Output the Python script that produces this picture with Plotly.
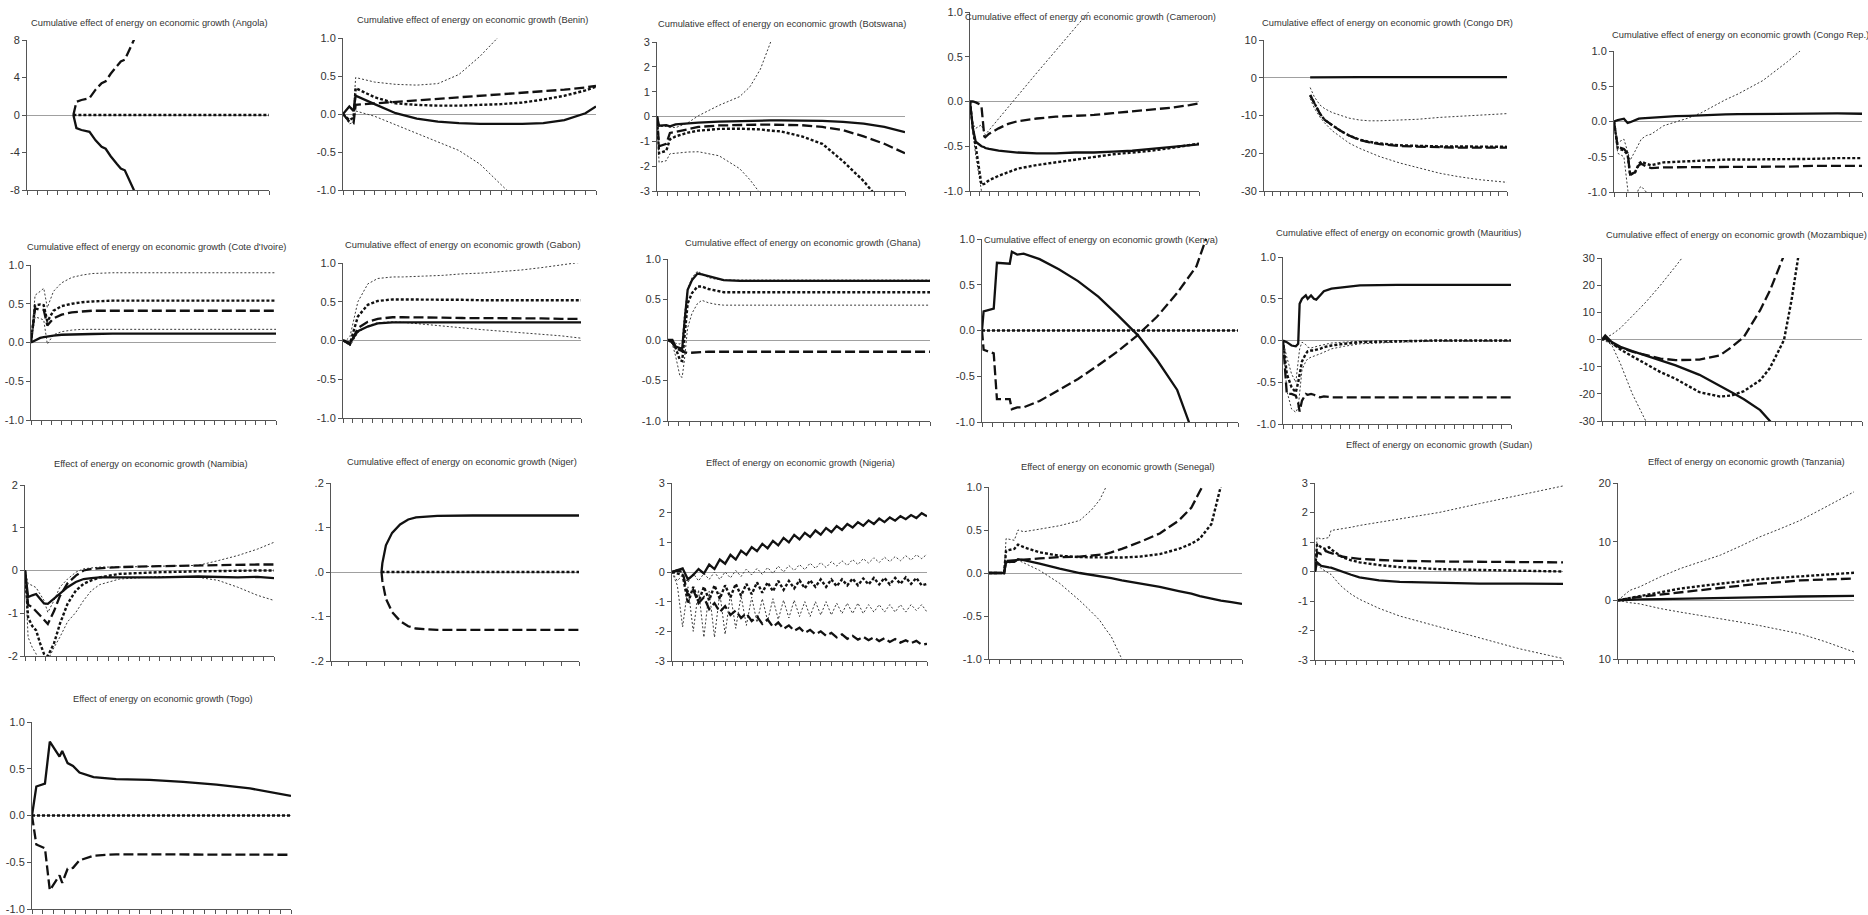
import plotly.graph_objects as go

W, H = 1868, 915

# ---------------- data ----------------
ANG_X = [4.6, 4.9, 5.4, 6.2, 6.8, 7.4, 7.8, 8.3, 8.9, 9.3, 9.7, 10.1, 10.6, 11.5]
ANG_DASH = [0, 1.4, 1.6, 1.8, 2.7, 3.4, 3.6, 4.4, 5.2, 5.7, 5.9, 6.8, 8.0, 9.5]
ANG_SOLID = [0, -1.4, -1.6, -1.8, -2.7, -3.4, -3.6, -4.4, -5.2, -5.7, -5.9, -6.8, -8.0, -9.5]
ANG_DOT_X = [4.6, 24]
ANG_DOT = [0, 0]

BEN_X = [0, 0.6, 1.0, 1.2, 3, 5, 7, 9, 11, 13, 15, 17, 19, 21, 23, 24]
BEN_SOLID = [0, 0.10, 0.04, 0.24, 0.13, 0.01, -0.06, -0.10, -0.12, -0.13, -0.13, -0.13, -0.12, -0.08, 0.01, 0.10]
BEN_DASH = [0, -0.10, -0.12, 0.12, 0.14, 0.16, 0.18, 0.20, 0.22, 0.24, 0.26, 0.28, 0.30, 0.32, 0.35, 0.37]
BEN_DOT = [0, -0.08, -0.05, 0.34, 0.22, 0.14, 0.12, 0.11, 0.11, 0.12, 0.13, 0.15, 0.19, 0.24, 0.31, 0.36]
BEN_UP = [0, 0.11, 0.05, 0.48, 0.42, 0.39, 0.38, 0.40, 0.52, 0.76, 1.05, 1.4, 1.8, 2.2, 2.6, 2.8]
BEN_LO = [0, -0.13, -0.11, 0.04, -0.03, -0.14, -0.26, -0.37, -0.48, -0.66, -0.92, -1.2, -1.5, -1.8, -2.1, -2.3]

BOT_X = [0, 0.2, 0.9, 1.25, 1.8, 3, 4, 6, 8, 9, 10, 11, 12, 14, 16, 18, 20, 22, 24]
BOT_SOLID = [0, -0.37, -0.35, -0.4, -0.32, -0.28, -0.25, -0.21, -0.18, -0.17, -0.17, -0.16, -0.16, -0.16, -0.18, -0.22, -0.29, -0.42, -0.63]
BOT_DASH = [0, -1.2, -1.1, -0.66, -0.62, -0.5, -0.42, -0.36, -0.33, -0.33, -0.33, -0.33, -0.33, -0.35, -0.42, -0.55, -0.8, -1.1, -1.48]
BOT_DOT = [0, -1.48, -1.38, -0.92, -0.8, -0.65, -0.57, -0.5, -0.49, -0.5, -0.52, -0.57, -0.6, -0.8, -1.1, -1.8, -2.6, -3.6, -5.0]
BOT_UP = [0, -0.4, -0.4, -0.42, -0.45, -0.25, 0.03, 0.45, 0.8, 1.2, 1.9, 3.0, 4.5, 6, 8, 10, 12, 14, 16]
BOT_LO = [0, -1.85, -1.78, -1.5, -1.48, -1.43, -1.42, -1.58, -2.1, -2.55, -3.1, -3.8, -4.6, -5.5, -6.5, -7.5, -8.5, -9.5, -10.5]

CAM_X = [0, 0.3, 0.6, 1.0, 1.2, 1.5, 1.6, 2, 3, 4, 5, 7, 9, 11, 13, 15, 17, 19, 21, 23, 24]
CAM_SOLID = [0, -0.3, -0.45, -0.48, -0.5, -0.51, -0.52, -0.53, -0.55, -0.56, -0.57, -0.58, -0.58, -0.57, -0.57, -0.56, -0.55, -0.53, -0.51, -0.49, -0.48]
CAM_DASH = [0, 0, -0.01, -0.03, -0.05, -0.39, -0.4, -0.36, -0.3, -0.25, -0.22, -0.19, -0.17, -0.16, -0.15, -0.13, -0.11, -0.09, -0.07, -0.04, -0.02]
CAM_DOT = [0, -0.3, -0.5, -0.8, -0.93, -0.92, -0.91, -0.88, -0.83, -0.79, -0.75, -0.71, -0.68, -0.65, -0.62, -0.59, -0.57, -0.55, -0.52, -0.49, -0.47]
CAM_UP = [0, -0.25, -0.3, -0.27, -0.26, -0.35, -0.37, -0.32, -0.19, -0.06, 0.06, 0.32, 0.57, 0.82, 1.08, 1.33, 1.58, 1.83, 2.08, 2.33, 2.45]
CAM_LO = [0, -0.35, -0.6, -0.89, -1.0, -1.1, -1.15, -1.2, -1.25, -1.3, -1.3, -1.3, -1.3, -1.3, -1.3, -1.3, -1.3, -1.3, -1.3, -1.3, -1.3]

CDR_X = [5.7, 6.2, 6.9, 7.5, 8.4, 9.4, 10.5, 11.8, 13, 14.3, 16.8, 19, 21.7, 24, 26.6, 30]
CDR_SOLID = [0.1, 0.12, 0.13, 0.14, 0.15, 0.15, 0.15, 0.15, 0.15, 0.15, 0.15, 0.15, 0.15, 0.15, 0.15, 0.15]
CDR_DASH = [-4.6, -6.8, -9.5, -11.2, -12.5, -14.0, -15.3, -16.5, -17.1, -17.6, -18.1, -18.3, -18.4, -18.5, -18.5, -18.5]
CDR_DOT = [-4.6, -6.8, -9.5, -11.2, -12.5, -14.0, -15.3, -16.4, -17.0, -17.4, -17.9, -18.1, -18.2, -18.2, -18.3, -18.3]
CDR_UP = [-2.6, -5.0, -7.2, -8.2, -9.2, -10.0, -10.7, -11.2, -11.4, -11.4, -11.2, -11.0, -10.5, -10.2, -9.9, -9.5]
CDR_LO = [-5.5, -8.0, -10.4, -12.0, -14.0, -15.6, -17.3, -18.7, -19.8, -20.9, -22.6, -23.9, -25.3, -26.2, -27.0, -27.7]

CRP_X = [0, 0.3, 0.8, 1.1, 1.3, 1.7, 2.0, 2.2, 2.6, 3.0, 4, 5, 6, 7, 8, 9, 10, 12, 14, 16, 18, 20]
CRP_SOLID = [0, 0.02, 0.04, -0.02, -0.01, 0.02, 0.04, 0.045, 0.05, 0.055, 0.065, 0.075, 0.08, 0.09, 0.095, 0.1, 0.105, 0.11, 0.115, 0.115, 0.115, 0.11]
CRP_DASH = [0, -0.36, -0.39, -0.45, -0.75, -0.72, -0.62, -0.6, -0.64, -0.66, -0.65, -0.65, -0.64, -0.64, -0.64, -0.64, -0.64, -0.64, -0.64, -0.63, -0.63, -0.63]
CRP_DOT = [0, -0.38, -0.41, -0.47, -0.76, -0.72, -0.6, -0.57, -0.6, -0.62, -0.58, -0.57, -0.56, -0.55, -0.55, -0.54, -0.54, -0.54, -0.53, -0.53, -0.52, -0.52]
CRP_UP = [0, -0.3, -0.25, -0.45, -0.55, -0.42, -0.32, -0.25, -0.2, -0.18, -0.06, -0.01, 0.05, 0.12, 0.22, 0.31, 0.39, 0.58, 0.85, 1.15, 1.45, 1.75]
CRP_LO = [0, -0.45, -0.5, -1.0, -1.25, -1.1, -0.95, -0.92, -1.0, -1.15, -1.3, -1.4, -1.5, -1.5, -1.5, -1.5, -1.5, -1.5, -1.5, -1.5, -1.5, -1.5]

CIV_X = [0, 0.4, 0.9, 1.25, 1.6, 2.2, 3, 4, 5, 6, 8, 10, 14, 18, 24]
CIV_SOLID = [0, 0.03, 0.06, 0.07, 0.08, 0.09, 0.10, 0.105, 0.11, 0.11, 0.115, 0.115, 0.115, 0.115, 0.115]
CIV_DASH = [0, 0.44, 0.42, 0.42, 0.22, 0.31, 0.36, 0.39, 0.40, 0.41, 0.41, 0.41, 0.41, 0.41, 0.41]
CIV_DOT = [0, 0.48, 0.49, 0.48, 0.27, 0.41, 0.47, 0.50, 0.52, 0.53, 0.54, 0.54, 0.54, 0.54, 0.54]
CIV_UP = [0, 0.61, 0.66, 0.70, 0.45, 0.66, 0.77, 0.84, 0.87, 0.89, 0.9, 0.9, 0.9, 0.9, 0.9]
CIV_LO = [0, 0.33, 0.31, 0.29, -0.02, 0.1, 0.14, 0.16, 0.17, 0.17, 0.17, 0.17, 0.17, 0.17, 0.17]

GAB_X = [0, 0.3, 0.7, 1.5, 2.5, 3.5, 5, 6, 8, 10, 12, 14, 16, 18, 20, 22, 24]
GAB_SOLID = [0, -0.01, -0.03, 0.12, 0.18, 0.22, 0.235, 0.235, 0.235, 0.235, 0.235, 0.235, 0.235, 0.235, 0.235, 0.235, 0.235]
GAB_DASH = [0, -0.02, -0.05, 0.16, 0.24, 0.28, 0.3, 0.3, 0.3, 0.295, 0.29, 0.29, 0.29, 0.285, 0.285, 0.28, 0.28]
GAB_DOT = [0, -0.01, -0.04, 0.31, 0.46, 0.51, 0.53, 0.53, 0.53, 0.525, 0.525, 0.52, 0.52, 0.52, 0.52, 0.52, 0.52]
GAB_UP = [0, 0.0, 0.05, 0.5, 0.73, 0.8, 0.82, 0.82, 0.83, 0.84, 0.86, 0.87, 0.89, 0.91, 0.94, 0.97, 1.01]
GAB_LO = [0, -0.03, -0.07, 0.1, 0.19, 0.23, 0.24, 0.235, 0.21, 0.19, 0.16, 0.14, 0.12, 0.1, 0.08, 0.06, 0.03]

GHA_X = [0, 0.4, 0.7, 1.1, 1.3, 1.5, 1.8, 2.2, 2.7, 3.1, 3.7, 4.4, 5.1, 6.6, 8, 12, 16, 20, 24]
GHA_SOLID = [0, 0, -0.08, -0.1, -0.11, 0.2, 0.62, 0.74, 0.82, 0.81, 0.79, 0.76, 0.74, 0.73, 0.73, 0.73, 0.73, 0.73, 0.73]
GHA_DASH = [0, -0.03, -0.1, -0.13, -0.145, -0.15, -0.16, -0.155, -0.15, -0.145, -0.145, -0.145, -0.145, -0.145, -0.145, -0.145, -0.145, -0.145, -0.145]
GHA_DOT = [0, -0.03, -0.1, -0.25, -0.26, 0.05, 0.45, 0.58, 0.66, 0.66, 0.63, 0.61, 0.59, 0.59, 0.59, 0.59, 0.59, 0.59, 0.59]
GHA_UP = [0, 0, -0.04, -0.05, -0.02, 0.3, 0.63, 0.77, 0.85, 0.82, 0.77, 0.75, 0.74, 0.74, 0.74, 0.74, 0.74, 0.74, 0.74]
GHA_LO = [0, -0.05, -0.2, -0.45, -0.46, -0.25, 0.15, 0.33, 0.45, 0.49, 0.46, 0.44, 0.43, 0.43, 0.43, 0.43, 0.43, 0.43, 0.43]

KEN_X = [0, 0.15, 1.1, 1.4, 2.6, 2.8, 3.3, 3.9, 5.4, 7.2, 9, 10.9, 12.7, 14.6, 16.4, 18.3, 19.4, 20.1, 21, 24]
KEN_SOLID = [0, 0.21, 0.24, 0.74, 0.73, 0.86, 0.83, 0.84, 0.78, 0.67, 0.54, 0.37, 0.17, -0.05, -0.32, -0.65, -1.0, -1.3, -1.6, -2.5]
KEN_DASH = [0, -0.21, -0.25, -0.75, -0.75, -0.86, -0.84, -0.84, -0.77, -0.65, -0.53, -0.38, -0.23, -0.05, 0.15, 0.41, 0.58, 0.7, 1.0, 2.0]
KEN_DOT_X = [0, 24]
KEN_DOT = [0, 0]

MAU_X = [0, 0.4, 0.9, 1.35, 1.6, 1.75, 2, 2.4, 2.6, 2.95, 3.25, 3.5, 3.9, 4.3, 5.1, 6.4, 8.1, 12, 16, 20, 24]
MAU_SOLID = [0, -0.02, -0.06, -0.07, -0.04, 0.44, 0.5, 0.54, 0.5, 0.54, 0.5, 0.49, 0.54, 0.59, 0.62, 0.64, 0.66, 0.665, 0.665, 0.665, 0.665]
MAU_DASH = [0, -0.64, -0.64, -0.66, -0.75, -0.85, -0.72, -0.64, -0.65, -0.64, -0.65, -0.66, -0.68, -0.67, -0.68, -0.68, -0.68, -0.68, -0.68, -0.68, -0.68]
MAU_DOT = [0, -0.4, -0.56, -0.62, -0.5, -0.4, -0.25, -0.16, -0.13, -0.12, -0.12, -0.11, -0.1, -0.08, -0.06, -0.04, -0.02, -0.01, 0, 0, 0]
MAU_UP = [0, -0.2, -0.4, -0.5, -0.25, -0.1, -0.02, -0.05, -0.08, -0.09, -0.08, -0.07, -0.06, -0.05, -0.03, -0.02, -0.01, 0, 0, 0, 0]
MAU_LO = [0, -0.6, -0.82, -0.86, -0.8, -0.6, -0.35, -0.25, -0.22, -0.2, -0.19, -0.18, -0.16, -0.14, -0.1, -0.07, -0.04, -0.02, -0.01, -0.01, -0.01]

MOZ_X = [0, 0.3, 0.9, 1.7, 2.8, 3.5, 4.1, 5.4, 6.8, 9, 10.9, 12, 13.1, 14.6, 15.5, 16.8, 17.5, 18.1, 24]
MOZ_SOLID = [0, 1.5, -0.9, -2.7, -4.3, -5.2, -6.0, -7.7, -9.5, -13, -17, -19.5, -22, -26, -30, -36, -40, -45, -90]
MOZ_DASH = [0, 0.5, -1.5, -3, -4.5, -5.2, -5.8, -7, -7.6, -7.4, -5.8, -2.7, 1, 10.8, 18, 31, 45, 60, 150]
MOZ_DOT = [0, 0.3, -1.2, -3.7, -6.2, -7.7, -9, -12, -14.5, -19.4, -21, -20.6, -19, -15, -10.5, -0.2, 14.6, 30, 100]
MOZ_UP = [0, 0.5, 1.8, 4.2, 8.5, 11.5, 14, 20, 27, 38, 48, 58, 68, 78, 88, 98, 108, 118, 200]
MOZ_LO = [0, -0.5, -2, -8.9, -20, -26, -30.5, -40, -50, -60, -70, -80, -90, -100, -110, -120, -130, -140, -200]

NAM_X = [0, 0.3, 0.7, 1.07, 1.45, 1.83, 2.2, 2.8, 3.36, 4.1, 4.9, 5.65, 6.4, 7.2, 9.1, 12.9, 16.7, 18.6, 20.5, 22.4, 24]
NAM_SOLID = [0, -0.62, -0.58, -0.55, -0.66, -0.77, -0.78, -0.66, -0.55, -0.39, -0.27, -0.2, -0.18, -0.16, -0.16, -0.16, -0.14, -0.15, -0.16, -0.15, -0.18]
NAM_DASH = [0, -0.8, -0.86, -0.95, -1.05, -1.15, -1.25, -0.95, -0.6, -0.3, -0.12, 0.0, 0.04, 0.05, 0.08, 0.1, 0.12, 0.13, 0.13, 0.14, 0.14]
NAM_DOT = [0, -1.1, -1.3, -1.4, -1.7, -1.95, -2.0, -1.7, -1.25, -0.78, -0.47, -0.31, -0.23, -0.16, -0.08, -0.04, -0.02, -0.01, 0, 0, 0]
NAM_UP = [0, -0.31, -0.35, -0.4, -0.55, -0.7, -0.98, -0.7, -0.39, -0.2, -0.04, 0.04, 0.06, 0.08, 0.08, 0.1, 0.12, 0.23, 0.35, 0.5, 0.66]
NAM_LO = [0, -1.56, -1.8, -1.95, -2.2, -2.3, -2.1, -1.8, -1.56, -1.2, -0.98, -0.7, -0.47, -0.33, -0.2, -0.14, -0.16, -0.23, -0.39, -0.58, -0.7]

NIG_X = [2.85, 2.9, 3.1, 3.45, 3.9, 4.36, 4.8, 6.0, 8, 14]
NIG_SOLID = [0, 0.02, 0.06, 0.088, 0.107, 0.118, 0.123, 0.126, 0.127, 0.127]
NIG_DASH = [0, -0.02, -0.06, -0.09, -0.11, -0.122, -0.127, -0.13, -0.13, -0.13]
NIG_DOT_X = [2.85, 14]
NIG_DOT = [0, 0]

NGA_X = [0, 0.5, 1, 1.5, 2, 2.5, 3, 3.5, 4, 4.5,
         5, 5.5, 6, 6.5, 7, 7.5, 8, 8.5, 9, 9.5,
         10, 10.5, 11, 11.5, 12, 12.5, 13, 13.5, 14, 14.5,
         15, 15.5, 16, 16.5, 17, 17.5, 18, 18.5, 19, 19.5,
         20, 20.5, 21, 21.5, 22, 22.5, 23, 23.5, 24]
NGA_SOLID = [0, 0.05, 0.12, -0.25, -0.1, 0.1, -0.05, 0.25, 0.1, 0.42,
             0.28, 0.58, 0.42, 0.72, 0.58, 0.84, 0.7, 0.95, 0.8, 1.05,
             0.9, 1.15, 1.0, 1.25, 1.1, 1.32, 1.18, 1.4, 1.26, 1.48,
             1.34, 1.55, 1.42, 1.62, 1.5, 1.68, 1.56, 1.74, 1.62, 1.8,
             1.68, 1.84, 1.73, 1.88, 1.78, 1.92, 1.82, 1.98, 1.88]
NGA_DASH = [0, 0.05, 0.0, -0.8, -0.6, -1.05, -0.85, -1.25, -1.05, -1.35,
            -1.15, -1.45, -1.3, -1.55, -1.4, -1.65, -1.5, -1.75, -1.6, -1.85,
            -1.7, -1.92, -1.8, -1.98, -1.88, -2.05, -1.95, -2.1, -2.0, -2.15,
            -2.05, -2.2, -2.1, -2.25, -2.15, -2.28, -2.18, -2.3, -2.2, -2.33,
            -2.23, -2.36, -2.26, -2.38, -2.3, -2.4, -2.32, -2.45, -2.42]
NGA_DOT = [0, -0.05, -0.1, -1.05, -0.5, -1.0, -0.5, -0.95, -0.45, -0.9,
           -0.45, -0.85, -0.4, -0.8, -0.4, -0.75, -0.35, -0.7, -0.35, -0.65,
           -0.3, -0.6, -0.3, -0.55, -0.28, -0.55, -0.28, -0.5, -0.25, -0.5,
           -0.25, -0.48, -0.25, -0.45, -0.22, -0.45, -0.22, -0.42, -0.2, -0.42,
           -0.2, -0.42, -0.2, -0.4, -0.18, -0.4, -0.2, -0.45, -0.4]
NGA_UP = [0, -0.3, -0.1, -0.35, -0.05, -0.3, -0.05, -0.25, 0.0, -0.25,
          0.0, -0.2, 0.05, -0.15, 0.1, -0.1, 0.12, -0.08, 0.15, -0.05,
          0.2, 0.0, 0.22, 0.05, 0.25, 0.08, 0.3, 0.12, 0.32, 0.15,
          0.35, 0.2, 0.38, 0.22, 0.42, 0.25, 0.45, 0.3, 0.48, 0.32,
          0.5, 0.35, 0.52, 0.38, 0.55, 0.4, 0.58, 0.45, 0.6]
NGA_LO = [0, -0.45, -1.85, -0.5, -2.0, -0.6, -2.2, -0.65, -2.2, -0.7,
          -2.1, -0.75, -1.9, -0.8, -1.8, -0.85, -1.7, -0.9, -1.65, -0.9,
          -1.6, -0.95, -1.55, -0.95, -1.5, -1.0, -1.5, -1.0, -1.45, -1.0,
          -1.45, -1.05, -1.4, -1.05, -1.4, -1.05, -1.4, -1.1, -1.35, -1.1,
          -1.35, -1.1, -1.35, -1.1, -1.35, -1.1, -1.3, -1.1, -1.35]

SEN_X = [0, 1.43, 1.62, 2.4, 2.75, 3.3, 4.8, 6.7, 8.6, 9.7, 10.5, 11.05, 11.6, 12.6, 14.3, 16.2, 18, 19.2, 20, 21.1, 22, 23, 24]
SEN_SOLID = [0, 0, 0.13, 0.13, 0.16, 0.15, 0.11, 0.05, 0.0, -0.02, -0.035, -0.05, -0.06, -0.085, -0.12, -0.16, -0.21, -0.24, -0.27, -0.3, -0.32, -0.34, -0.36]
SEN_DASH = [0, 0, 0.14, 0.15, 0.155, 0.155, 0.17, 0.185, 0.19, 0.2, 0.21, 0.22, 0.24, 0.28, 0.36, 0.46, 0.61, 0.76, 0.95, 1.2, 1.5, 1.8, 2.2]
SEN_DOT = [0, 0, 0.26, 0.28, 0.33, 0.3, 0.24, 0.2, 0.185, 0.18, 0.18, 0.18, 0.18, 0.18, 0.19, 0.22, 0.28, 0.34, 0.4, 0.57, 1.0, 1.5, 2.0]
SEN_UP = [0, 0, 0.4, 0.38, 0.5, 0.48, 0.51, 0.55, 0.61, 0.73, 0.85, 1.0, 1.15, 1.4, 1.8, 2.2, 2.6, 2.8, 3.0, 3.3, 3.5, 3.8, 4.0]
SEN_LO = [0, 0, 0.11, 0.13, 0.15, 0.12, 0.03, -0.12, -0.32, -0.45, -0.55, -0.65, -0.74, -1.0, -1.4, -1.8, -2.2, -2.5, -2.7, -3.0, -3.2, -3.4, -3.6]

SUD_X = [0, 0.2, 0.6, 1.0, 1.35, 1.55, 1.95, 2.35, 2.7, 3.5, 4.3, 6.2, 8.2, 12, 15.9, 19.8, 24]
SUD_SOLID = [0, 0.31, 0.19, 0.15, 0.14, 0.13, 0.08, 0.02, -0.03, -0.11, -0.2, -0.3, -0.35, -0.39, -0.41, -0.41, -0.42]
SUD_DASH = [0, 0.65, 0.59, 0.7, 0.65, 0.63, 0.59, 0.55, 0.5, 0.46, 0.43, 0.39, 0.36, 0.34, 0.33, 0.32, 0.31]
SUD_DOT = [0, 0.93, 0.82, 0.76, 0.82, 0.75, 0.65, 0.56, 0.48, 0.38, 0.31, 0.22, 0.15, 0.08, 0.05, 0.02, 0.0]
SUD_UP = [0, 1.16, 1.1, 1.12, 1.15, 1.39, 1.41, 1.43, 1.44, 1.5, 1.56, 1.67, 1.78, 2.0, 2.3, 2.6, 2.9]
SUD_LO = [0, 0.25, 0.1, 0.0, -0.06, -0.1, -0.28, -0.43, -0.55, -0.77, -0.94, -1.25, -1.51, -1.87, -2.25, -2.62, -2.95]

TAN_X = [0, 0.6, 1.2, 2.2, 4.3, 6.3, 8.4, 10.4, 12.4, 14.4, 16.5, 18.5, 21, 24]
TAN_SOLID = [0, 0.05, 0.1, 0.15, 0.22, 0.3, 0.37, 0.43, 0.49, 0.55, 0.6, 0.65, 0.7, 0.75]
TAN_DASH = [0, 0.2, 0.35, 0.6, 1.0, 1.4, 1.8, 2.15, 2.5, 2.85, 3.1, 3.4, 3.55, 3.7]
TAN_DOT = [0, 0.2, 0.4, 0.74, 1.4, 2.0, 2.45, 2.85, 3.25, 3.6, 3.85, 4.1, 4.4, 4.7]
TAN_UP = [0, 0.85, 1.7, 2.3, 4.0, 5.4, 6.6, 7.7, 9.2, 10.8, 12.2, 13.6, 15.8, 18.5]
TAN_LO = [0, -0.2, -0.4, -0.6, -1.4, -2.0, -2.55, -3.1, -3.7, -4.3, -5.0, -5.7, -7.0, -8.8]

TOGO_X = [0, 0.4, 1.2, 1.65, 2.55, 2.8, 3.3, 3.8, 4.4, 5.7, 7.8, 10.9, 14, 17.1, 20.2, 22, 24]
TOGO_SOLID = [0, 0.31, 0.34, 0.79, 0.63, 0.69, 0.56, 0.53, 0.46, 0.41, 0.39, 0.38, 0.36, 0.33, 0.29, 0.25, 0.21]
TOGO_DASH = [0, -0.31, -0.35, -0.8, -0.64, -0.72, -0.57, -0.56, -0.48, -0.43, -0.415, -0.415, -0.415, -0.415, -0.42, -0.42, -0.42]
TOGO_DOT_X = [0, 24]
TOGO_DOT = [0, 0]

# tick label sets
T_UNIT_V = [-1, -0.5, 0, 0.5, 1]
T_UNIT_T = ["-1.0", "-0.5", "0.0", "0.5", "1.0"]
T_ANG_V = [-8, -4, 0, 4, 8]
T_ANG_T = ["-8", "-4", "0", "4", "8"]
T_3_V = [-3, -2, -1, 0, 1, 2, 3]
T_3_T = ["-3", "-2", "-1", "0", "1", "2", "3"]
T_2_V = [-2, -1, 0, 1, 2]
T_2_T = ["-2", "-1", "0", "1", "2"]
T_CDR_V = [-30, -20, -10, 0, 10]
T_CDR_T = ["-30", "-20", "-10", "0", "10"]
T_MOZ_V = [-30, -20, -10, 0, 10, 20, 30]
T_MOZ_T = ["-30", "-20", "-10", "0", "10", "20", "30"]
T_NIG_V = [-0.2, -0.1, 0, 0.1, 0.2]
T_NIG_T = ["-.2", "-.1", ".0", ".1", ".2"]
T_TAN_V = [-10, 0, 10, 20]
T_TAN_T = ["10", "0", "10", "20"]

CUM = "Cumulative effect of energy on economic growth "
EFF = "Effect of energy on economic growth "

# ---------------- layout of the panels (pixel boxes) ----------------
PANELS = [
    dict(t=CUM + "(Angola)", box=(27, 269, 40, 190), tp=(149, 23), xmax=24, yr=(-8, 8), tv=T_ANG_V, tt=T_ANG_T,
         lines={"dot": (ANG_DOT_X, ANG_DOT), "dash": (ANG_X, ANG_DASH), "solid": (ANG_X, ANG_SOLID)}),
    dict(t=CUM + "(Benin)", box=(343, 596, 38, 190), tp=(472, 20), xmax=24, yr=(-1, 1), tv=T_UNIT_V, tt=T_UNIT_T,
         lines={"lo": (BEN_X, BEN_LO), "up": (BEN_X, BEN_UP), "dot": (BEN_X, BEN_DOT), "dash": (BEN_X, BEN_DASH), "solid": (BEN_X, BEN_SOLID)}),
    dict(t=CUM + "(Botswana)", box=(657, 905, 42, 191), tp=(782, 24), xmax=24, yr=(-3, 3), tv=T_3_V, tt=T_3_T,
         lines={"lo": (BOT_X, BOT_LO), "up": (BOT_X, BOT_UP), "dot": (BOT_X, BOT_DOT), "dash": (BOT_X, BOT_DASH), "solid": (BOT_X, BOT_SOLID)}),
    dict(t=CUM + "(Cameroon)", box=(970, 1199, 12, 191), tp=(1090, 17), xmax=24, yr=(-1, 1), tv=T_UNIT_V, tt=T_UNIT_T,
         lines={"lo": (CAM_X, CAM_LO), "up": (CAM_X, CAM_UP), "dot": (CAM_X, CAM_DOT), "dash": (CAM_X, CAM_DASH), "solid": (CAM_X, CAM_SOLID)}),
    dict(t=CUM + "(Congo DR)", box=(1264, 1507, 40, 191), tp=(1387, 23), xmax=30, yr=(-30, 10), tv=T_CDR_V, tt=T_CDR_T,
         lines={"lo": (CDR_X, CDR_LO), "up": (CDR_X, CDR_UP), "dot": (CDR_X, CDR_DOT), "dash": (CDR_X, CDR_DASH), "solid": (CDR_X, CDR_SOLID)}),
    dict(t=CUM + "(Congo Rep.)", box=(1614, 1862, 51, 192), tp=(1740, 35), xmax=20, yr=(-1, 1), tv=T_UNIT_V, tt=T_UNIT_T,
         lines={"lo": (CRP_X, CRP_LO), "up": (CRP_X, CRP_UP), "dot": (CRP_X, CRP_DOT), "dash": (CRP_X, CRP_DASH), "solid": (CRP_X, CRP_SOLID)}),
    dict(t=CUM + "(Cote d'Ivoire)", box=(31, 276, 265, 420), tp=(156, 247), xmax=24, yr=(-1, 1), tv=T_UNIT_V, tt=T_UNIT_T,
         lines={"lo": (CIV_X, CIV_LO), "up": (CIV_X, CIV_UP), "dot": (CIV_X, CIV_DOT), "dash": (CIV_X, CIV_DASH), "solid": (CIV_X, CIV_SOLID)}),
    dict(t=CUM + "(Gabon)", box=(343, 581, 263, 418), tp=(462, 245), xmax=24, yr=(-1, 1), tv=T_UNIT_V, tt=T_UNIT_T,
         lines={"lo": (GAB_X, GAB_LO), "up": (GAB_X, GAB_UP), "dot": (GAB_X, GAB_DOT), "dash": (GAB_X, GAB_DASH), "solid": (GAB_X, GAB_SOLID)}),
    dict(t=CUM + "(Ghana)", box=(668, 930, 259, 421), tp=(802, 243), xmax=24, yr=(-1, 1), tv=T_UNIT_V, tt=T_UNIT_T,
         lines={"lo": (GHA_X, GHA_LO), "up": (GHA_X, GHA_UP), "dot": (GHA_X, GHA_DOT), "dash": (GHA_X, GHA_DASH), "solid": (GHA_X, GHA_SOLID)}),
    dict(t=CUM + "(Kenya)", box=(982, 1238, 239, 422), tp=(1101, 240), xmax=24, yr=(-1, 1), tv=T_UNIT_V, tt=T_UNIT_T,
         lines={"dot": (KEN_DOT_X, KEN_DOT), "dash": (KEN_X, KEN_DASH), "solid": (KEN_X, KEN_SOLID)}),
    dict(t=CUM + "(Mauritius)", box=(1283, 1511, 257, 424), tp=(1398, 233), xmax=24, yr=(-1, 1), tv=T_UNIT_V, tt=T_UNIT_T,
         lines={"lo": (MAU_X, MAU_LO), "up": (MAU_X, MAU_UP), "dot": (MAU_X, MAU_DOT), "dash": (MAU_X, MAU_DASH), "solid": (MAU_X, MAU_SOLID)}),
    dict(t=CUM + "(Mozambique)", box=(1602, 1862, 258, 421), tp=(1736, 235), xmax=24, yr=(-30, 30), tv=T_MOZ_V, tt=T_MOZ_T,
         lines={"lo": (MOZ_X, MOZ_LO), "up": (MOZ_X, MOZ_UP), "dot": (MOZ_X, MOZ_DOT), "dash": (MOZ_X, MOZ_DASH), "solid": (MOZ_X, MOZ_SOLID)}),
    dict(t=EFF + "(Namibia)", box=(25, 274, 485, 656), tp=(151, 464), xmax=24, yr=(-2, 2), tv=T_2_V, tt=T_2_T,
         lines={"lo": (NAM_X, NAM_LO), "up": (NAM_X, NAM_UP), "dot": (NAM_X, NAM_DOT), "dash": (NAM_X, NAM_DASH), "solid": (NAM_X, NAM_SOLID)}),
    dict(t=CUM + "(Niger)", box=(331, 579, 483, 661), tp=(462, 462), xmax=14, yr=(-0.2, 0.2), tv=T_NIG_V, tt=T_NIG_T,
         lines={"dot": (NIG_DOT_X, NIG_DOT), "dash": (NIG_X, NIG_DASH), "solid": (NIG_X, NIG_SOLID)}),
    dict(t=EFF + "(Nigeria)", box=(672, 927, 483, 661), tp=(800, 463), xmax=24, yr=(-3, 3), tv=T_3_V, tt=T_3_T,
         lines={"lo": (NGA_X, NGA_LO), "up": (NGA_X, NGA_UP), "dot": (NGA_X, NGA_DOT), "dash": (NGA_X, NGA_DASH), "solid": (NGA_X, NGA_SOLID)}),
    dict(t=EFF + "(Senegal)", box=(989, 1242, 487, 659), tp=(1118, 467), xmax=24, yr=(-1, 1), tv=T_UNIT_V, tt=T_UNIT_T,
         lines={"lo": (SEN_X, SEN_LO), "up": (SEN_X, SEN_UP), "dot": (SEN_X, SEN_DOT), "dash": (SEN_X, SEN_DASH), "solid": (SEN_X, SEN_SOLID)}),
    dict(t=EFF + "(Sudan)", box=(1315, 1563, 483, 660), tp=(1439, 445), xmax=24, yr=(-3, 3), tv=T_3_V, tt=T_3_T,
         lines={"lo": (SUD_X, SUD_LO), "up": (SUD_X, SUD_UP), "dot": (SUD_X, SUD_DOT), "dash": (SUD_X, SUD_DASH), "solid": (SUD_X, SUD_SOLID)}),
    dict(t=EFF + "(Tanzania)", box=(1618, 1854, 483, 659), tp=(1746, 462), xmax=24, yr=(-10, 20), tv=T_TAN_V, tt=T_TAN_T,
         lines={"lo": (TAN_X, TAN_LO), "up": (TAN_X, TAN_UP), "dot": (TAN_X, TAN_DOT), "dash": (TAN_X, TAN_DASH), "solid": (TAN_X, TAN_SOLID)}),
    dict(t=EFF + "(Togo)", box=(32, 291, 722, 909), tp=(163, 699), xmax=24, yr=(-1, 1), tv=T_UNIT_V, tt=T_UNIT_T,
         lines={"dot": (TOGO_DOT_X, TOGO_DOT), "dash": (TOGO_X, TOGO_DASH), "solid": (TOGO_X, TOGO_SOLID)}),
]

FONT = "Liberation Sans Narrow, Arial Narrow, Liberation Sans, Arial, sans-serif"
STYLE = {
    "lo": dict(color="#3a3a3a", width=1, dash="2px,2px"),
    "up": dict(color="#3a3a3a", width=1, dash="2px,2px"),
    "dot": dict(color="#111111", width=2.4, dash="3px,2px"),
    "dash": dict(color="#111111", width=2.3, dash="10px,4px"),
    "solid": dict(color="#111111", width=2.3, dash="solid"),
}
ORDER = ["lo", "up", "dot", "dash", "solid"]
AXC = "#555555"

fig = go.Figure()
annotations = []
axes = {}
for i, p in enumerate(PANELS, start=1):
    sfx = "" if i == 1 else str(i)
    xa, ya = "x" + sfx, "y" + sfx
    for key in ORDER:
        if key in p["lines"]:
            xs, ys = p["lines"][key]
            fig.add_trace(go.Scatter(x=xs, y=ys, mode="lines", line=STYLE[key],
                                     xaxis=xa, yaxis=ya, showlegend=False, hoverinfo="skip"))
    L, R, T, B = p["box"]
    axes["xaxis" + sfx] = dict(domain=[L / W, R / W], range=[0, p["xmax"]], anchor=ya,
                               showline=True, linecolor=AXC, linewidth=1, ticks="outside",
                               ticklen=4, tickcolor=AXC, dtick=1, tick0=0, showticklabels=False,
                               showgrid=False, zeroline=False, fixedrange=True)
    axes["yaxis" + sfx] = dict(domain=[1 - B / H, 1 - T / H], range=list(p["yr"]), anchor=xa,
                               showline=True, linecolor=AXC, linewidth=1, ticks="outside",
                               ticklen=4, tickcolor=AXC, tickvals=p["tv"], ticktext=p["tt"],
                               tickfont=dict(family=FONT, size=11, color="#333333"),
                               showgrid=False, zeroline=True, zerolinecolor="#a0a0a0",
                               zerolinewidth=1, fixedrange=True)
    cx, cy = p["tp"]
    annotations.append(dict(text=p["t"], x=cx / W, y=1 - cy / H, xref="paper", yref="paper",
                            xanchor="center", yanchor="middle", showarrow=False,
                            font=dict(family=FONT, size=9.3, color="#333333")))

fig.update_layout(width=W, height=H, margin=dict(l=0, r=0, t=0, b=0),
                  paper_bgcolor="white", plot_bgcolor="white", template="none",
                  showlegend=False, annotations=annotations, **axes)

fig.write_html("out.html", config={"displayModeBar": False, "responsive": False},
               post_script="document.body.style.margin='0px';")
